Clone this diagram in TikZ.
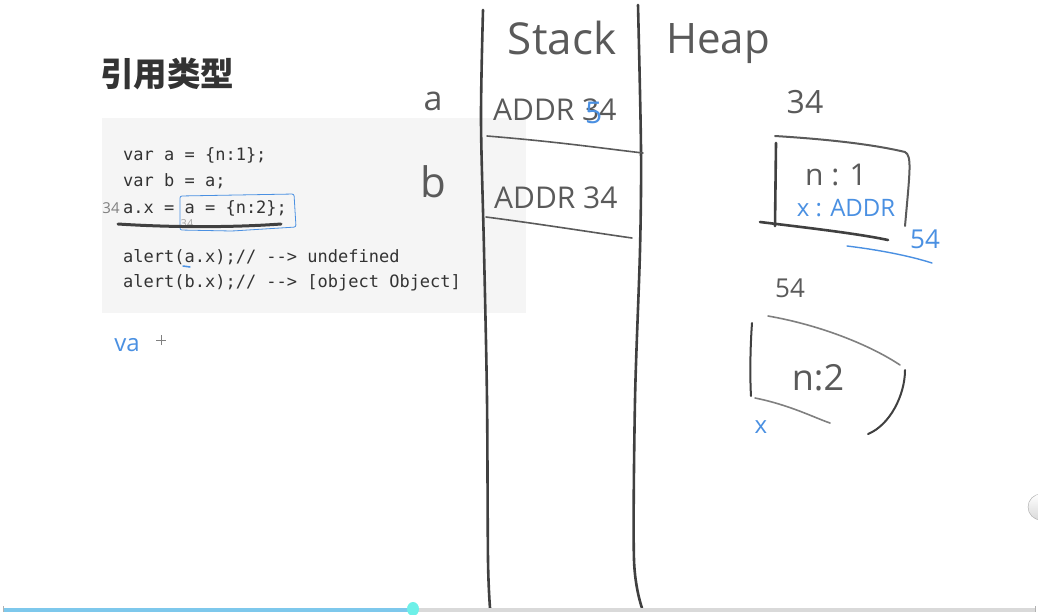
\documentclass[tikz,border=0pt]{standalone}
\usepackage{fontspec}
\setmainfont{Open Sans}
\newfontfamily\cjkfont{Noto Sans CJK SC}
\newfontfamily\codefont{DejaVu Sans Mono}
\newfontfamily\handfont{Open Sans}
\definecolor{penGray}{HTML}{5A5A5A}
\definecolor{penDark}{HTML}{404040}
\definecolor{penBlue}{HTML}{4A90E2}
\definecolor{codeBg}{HTML}{F5F5F5}
\definecolor{codeText}{HTML}{333333}
\definecolor{barBlue}{HTML}{7EC8EC}
\definecolor{barGray}{HTML}{D9D9D9}
\definecolor{knob}{HTML}{6EF0E8}
\tikzset{
  codeline/.style={anchor=west, inner sep=0, text=codeText, font=\codefont\fontsize{17}{19}\selectfont},
  hand/.style={inner sep=0, text=penGray, font=\handfont\fontsize{#1}{#1}\selectfont},
  hand/.default=30,
  bluehand/.style={hand=#1, text=penBlue},
  bluehand/.default=22,
  pen/.style={draw=penDark, line width=2.6pt, line cap=round, line join=round},
  thinpen/.style={draw=penGray, line width=1.6pt, line cap=round, line join=round},
  bluepen/.style={draw=penBlue, line width=1.4pt, line cap=round, line join=round},
}
\begin{document}
\begin{tikzpicture}[x=1pt,y=-1pt]
\useasboundingbox (0,0) rectangle (1038,614);
\fill[white] (0,0) rectangle (1038,614);

% title
\node[anchor=west, inner sep=0, text=codeText, font=\cjkfont\bfseries\fontsize{33.5}{34}\selectfont] (title) at (100,74) {引用类型};

% code box
\fill[codeBg] (102,118) rectangle (526,313);
\node[codeline] (c1) at (123,155) {var a = \{n:1\};};
\node[codeline] (c2) at (123,181) {var b = a;};
\node[codeline] (c3) at (123,208) {a.x = a = \{n:2\};};
\node[codeline] (c4) at (123,257) {alert(a.x);// --> undefined};
\node[codeline] (c5) at (123,283) {alert(b.x);// --> [object Object]};

% annotations on code
\node[hand=15, text=gray] (n34a) at (111,208) {34};
\node[hand=11, text=gray!70] (n34b) at (187,224) {34};
\draw[bluepen, line width=0.8pt, rounded corners=2pt] (180,196) -- (294,194) -- (296,227) -- (232,231) -- (180,230) -- cycle;
\draw[draw=penDark, line width=3pt, line cap=round] (118,224) .. controls (180,228) and (240,227) .. (281,224);
\draw[bluepen, line width=1.5pt] (183,266) -- (190,267);
\node[bluehand=24] (va) at (127,345) {va};
\coordinate (cur) at (161,340);
\draw[gray, line width=0.6pt] ([xshift=-5pt]cur) -- ([xshift=5pt]cur) ([yshift=-5pt]cur) -- ([yshift=5pt]cur);

% stack column lines
\draw[pen] plot[smooth] coordinates {(483,10) (481,120) (484,250) (487,400) (488,560) (490,608)};
\draw[pen] plot[smooth] coordinates {(638,5) (641,150) (640,250) (635,400) (634,560) (642,608)};
\node[hand=44] (stack) at (562,38) {Stack};
\node[hand=42] (heap) at (718,44) {Heap};

% stack rows
\node[hand=34] (va1) at (433,101) {a};
\node[hand=42] (vb1) at (433,182) {b};
\node[hand=30, anchor=west] (addrA) at (493,110) {ADDR 34};
\node[bluehand=30, anchor=west] (five) at (585,113) {5};
\node[hand=30, anchor=west] (addrB) at (494,198) {ADDR 34};
\draw[thinpen] (487,136) .. controls (560,142) and (600,148) .. (643,153);
\draw[thinpen] (486,217) .. controls (540,224) and (590,232) .. (632,238);

% heap object 34
\node[hand=32] (h34) at (805,102) {34};
\draw[pen, line width=2pt, draw=penGray] (775,136) .. controls (840,140) and (880,146) .. (905,152) .. controls (912,156) and (910,170) .. (905,226);
\draw[pen] (776,143) -- (775,226);
\draw[pen] (760,222) .. controls (810,228) and (860,234) .. (888,240);
\node[hand=30] (n1) at (836,175) {n : 1};
\node[bluehand=24] (xaddr) at (846,208) {x : ADDR};
\node[bluehand=26] (a54) at (925,239) {54};
\draw[bluepen] (847,246) .. controls (880,250) and (910,256) .. (932,263);

% heap object 54
\node[hand=26] (h54) at (790,288) {54};
\draw[thinpen, draw=gray] (768,316) .. controls (820,325) and (870,345) .. (900,365);
\draw[pen, line width=2pt] (905,370) .. controls (905,395) and (890,425) .. (868,434);
\draw[pen, line width=2pt] (752,323) .. controls (750,350) and (750,380) .. (751,396);
\draw[thinpen, draw=gray] (755,398) .. controls (790,405) and (815,418) .. (830,423);
\node[hand=36] (n2) at (818,378) {n:2};
\node[bluehand=24] (xb) at (761,427) {x};

% bottom bar
\fill[barGray] (410,607.5) rectangle (1035,612);
\fill[barBlue] (3,607.5) rectangle (410,612);
\fill[knob] (413,609) ellipse [x radius=6, y radius=7];
\draw[gray!60, line width=0.5pt] (3,606) -- (3,612);
\draw[gray!60, line width=0.5pt] (1035,606) -- (1035,612);
\shade[top color=white, bottom color=gray!30, draw=gray!70] (1041,507) circle (13);
\end{tikzpicture}
\end{document}
